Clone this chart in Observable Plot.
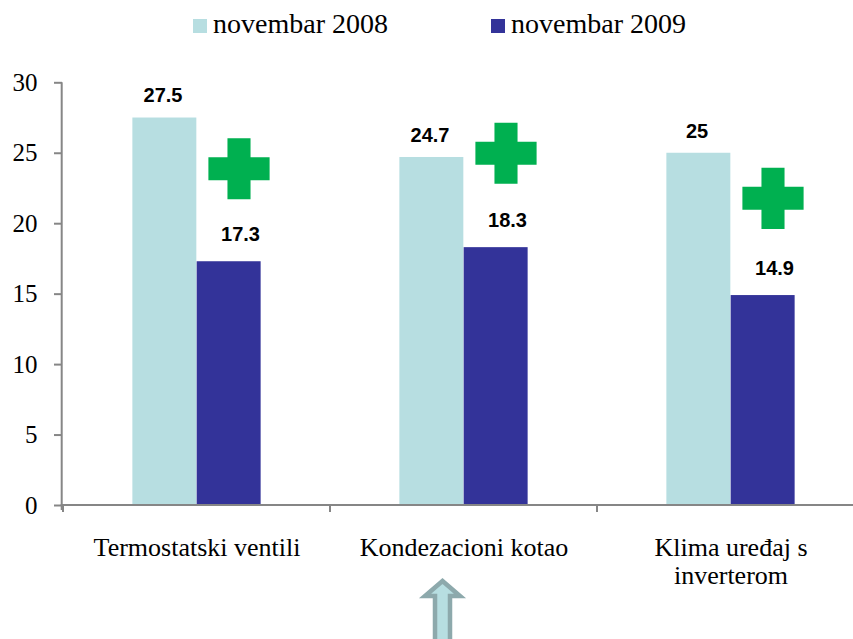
<!DOCTYPE html>
<html><head><meta charset="utf-8">
<script src="https://cdn.jsdelivr.net/npm/d3@7"></script>
<script src="https://cdn.jsdelivr.net/npm/@observablehq/plot@0.6"></script>
<style>
body{margin:0;background:#fff;width:853px;height:639px;overflow:hidden;position:relative;font-family:"Liberation Serif",serif;}
#legend{position:absolute;top:0;left:0;width:853px;height:45px;}
.sw{position:absolute;width:14px;height:14px;top:19px;}
.lt{position:absolute;top:10px;font-size:28px;line-height:28px;color:#000;white-space:nowrap;}
#chart{position:absolute;top:45px;left:0;}
</style></head><body>
<div id="legend"></div><div id="chart"></div>
<script>
const categories = ["Termostatski ventili", "Kondezacioni kotao", "Klima uređaj s inverterom"];
const categoryLabels = ["Termostatski ventili", "Kondezacioni kotao", "Klima uređaj s\ninverterom"];
const series = ["novembar 2008", "novembar 2009"];
const values2008 = [27.5, 24.7, 25];
const values2009 = [17.3, 18.3, 14.9];
const plusY = [23.9, 25.0, 21.8];
const yTicks = [0, 5, 10, 15, 20, 25, 30];
const colors = ["#B7DEE1", "#333399"];
const arrowCategory = "Kondezacioni kotao";

// legend
const legend = document.getElementById("legend");
const legendPos = [193, 491];
series.forEach((s, i) => {
  const sw = document.createElement("div");
  sw.className = "sw"; sw.style.left = legendPos[i] + "px"; sw.style.background = colors[i];
  legend.appendChild(sw);
  const t = document.createElement("div");
  t.className = "lt"; t.style.left = (legendPos[i] + 20) + "px"; t.textContent = s;
  legend.appendChild(t);
});

const W = 853, ML = 62, MR = -11;
const bw = (W - MR - ML) / categories.length;
const barW = 64.3;
const serif = "Liberation Serif";

const d08 = categories.map((c, i) => ({cat: c, v: values2008[i]}));
const d09 = categories.map((c, i) => ({cat: c, v: values2009[i]}));
const dPlus = categories.map((c, i) => ({cat: c, v: plusY[i]}));

const plusSymbol = {
  draw(ctx, size) {
    const r = Math.sqrt(size / Math.PI), t = r * 0.377;
    ctx.moveTo(-r, -t); ctx.lineTo(-t, -t); ctx.lineTo(-t, -r); ctx.lineTo(t, -r);
    ctx.lineTo(t, -t); ctx.lineTo(r, -t); ctx.lineTo(r, t); ctx.lineTo(t, t);
    ctx.lineTo(t, r); ctx.lineTo(-t, r); ctx.lineTo(-t, t); ctx.lineTo(-r, t);
    ctx.closePath();
  }
};

function decorations(index, scales, values, dims) {
  const {x, y} = scales;
  const g = d3.create("svg:g");
  const b = x.bandwidth();
  const x0 = dims.marginLeft - 0.3, x1 = dims.width - dims.marginRight;
  const y0 = y(0);
  const grey = "#868686";
  g.append("line").attr("x1", x0).attr("x2", x0).attr("y1", y(30)).attr("y2", y0 + 5)
    .attr("stroke", grey).attr("stroke-width", 2);
  g.append("line").attr("x1", x0 - 1).attr("x2", x1).attr("y1", y0).attr("y2", y0)
    .attr("stroke", grey).attr("stroke-width", 2);
  const bounds = categories.map(c => x(c)).concat([x1]);
  bounds.forEach(bx => {
    g.append("line").attr("x1", bx).attr("x2", bx).attr("y1", y0).attr("y2", y0 + 7)
      .attr("stroke", grey).attr("stroke-width", 2);
  });
  // arrow under the middle category
  const cx = x(arrowCategory) + b / 2 - 21;
  const tip = dims.height - 61, base = dims.height - 42, bottom = dims.height + 10;
  const p = d3.path();
  p.moveTo(cx, tip + 3); p.lineTo(cx + 17.5, base - 1); p.lineTo(cx + 7.5, base - 1);
  p.lineTo(cx + 7.5, bottom); p.lineTo(cx - 7.5, bottom); p.lineTo(cx - 7.5, base - 1);
  p.lineTo(cx - 17.5, base - 1); p.closePath();
  g.append("path").attr("d", p.toString()).attr("fill", "#B7DEE1")
    .attr("stroke", "#8DA9AC").attr("stroke-width", 4.5).attr("stroke-linejoin", "miter");
  return g.node();
}

const chart = Plot.plot({
  width: W, height: 594,
  marginLeft: ML, marginRight: MR, marginTop: 37.3, marginBottom: 134,
  style: {fontFamily: serif, fontSize: "24px", background: "white", color: "black", overflow: "visible"},
  x: {type: "band", domain: categories, padding: 0},
  y: {domain: [0, 30]},
  marks: [
    Plot.barY(d08, {x: "cat", y: "v", fill: colors[0], insetLeft: bw / 2 - barW, insetRight: bw / 2}),
    Plot.barY(d09, {x: "cat", y: "v", fill: colors[1], insetLeft: bw / 2, insetRight: bw / 2 - barW}),
    Plot.dot(dPlus, {x: "cat", y: "v", r: 30.6, symbol: plusSymbol, fill: "#00B050", stroke: null, dx: 42}),
    Plot.text(d08, {x: "cat", y: "v", text: d => String(d.v), dx: -34, dy: -15.6, lineAnchor: "bottom",
      fontFamily: "Liberation Sans", fontWeight: "bold", fontSize: 20, fill: "black"}),
    Plot.text(d09, {x: "cat", y: "v", text: d => String(d.v), dx: 43.5, dy: -21, lineAnchor: "bottom",
      fontFamily: "Liberation Sans", fontWeight: "bold", fontSize: 20, fill: "black"}),
    Plot.axisY({ticks: yTicks, tickSize: 8, tickPadding: 17, stroke: "#868686", strokeWidth: 2, fill: "black",
      fontSize: 25, fontFamily: serif, label: null}),
    Plot.axisX({tickSize: 0, tickPadding: 30, tickFormat: d => categoryLabels[categories.indexOf(d)],
      fontSize: 26, fontFamily: serif, lineHeight: 1.09, fill: "black", label: null}),
    decorations
  ]
});
chart.style.fontFamily = serif;
document.getElementById("chart").appendChild(chart);
</script>
</body></html>
